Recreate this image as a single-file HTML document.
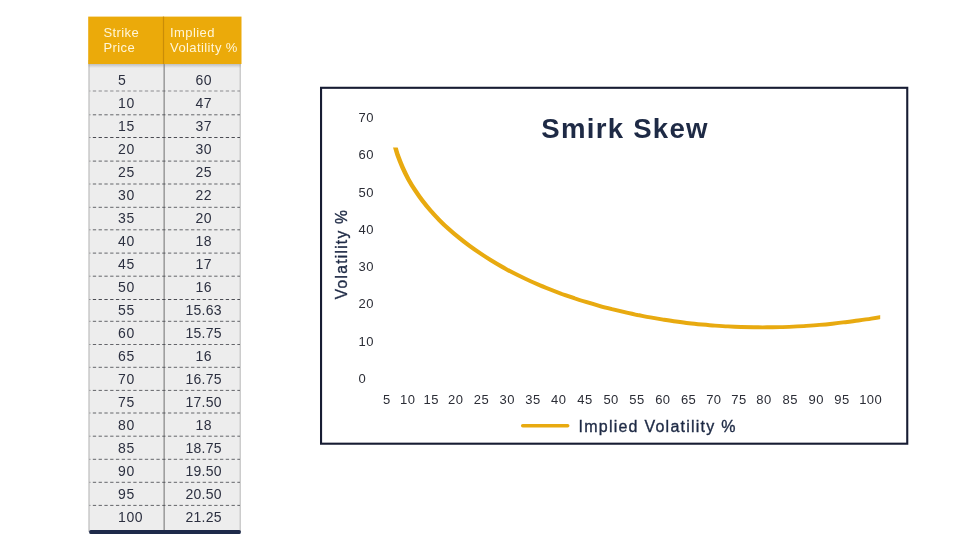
<!DOCTYPE html>
<html lang="en">
<head>
<meta charset="utf-8">
<title>Smirk Skew</title>
<style>
html,body{margin:0;padding:0;background:#fff;}
body{width:978px;height:547px;position:relative;overflow:hidden;font-family:"Liberation Sans",sans-serif;}
#shapes{position:absolute;left:0;top:0;}
.hd{position:absolute;color:#fff6d8;font-size:13px;line-height:16px;height:16px;letter-spacing:0.4px;white-space:nowrap;}
.r{position:absolute;left:0;width:978px;height:23px;line-height:23px;font-size:14px;color:#2c3040;}
.c1{position:absolute;left:118px;letter-spacing:0.6px;}
.c2{position:absolute;left:164px;width:79px;text-align:center;letter-spacing:0.3px;text-indent:0.3px;}
.yl{position:absolute;left:358.6px;width:40px;height:16px;line-height:16px;font-size:13px;color:#2b2d36;letter-spacing:0.4px;}
.xl{position:absolute;top:392.3px;width:40px;height:16px;line-height:16px;font-size:13px;color:#2b2d36;text-align:center;letter-spacing:0.4px;text-indent:0.4px;}
#title{position:absolute;left:541.3px;top:113px;font-size:27.6px;line-height:32px;font-weight:bold;color:#1e2a45;letter-spacing:1.25px;white-space:nowrap;}
#ytitle{position:absolute;left:342px;top:254px;width:0;height:0;}
#ytitle span{position:absolute;display:block;white-space:nowrap;font-size:15.6px;line-height:20px;color:#1e2a45;letter-spacing:1.25px;-webkit-text-stroke:0.35px #1e2a45;transform:translate(-50%,-50%) rotate(-90deg);}
#legend{position:absolute;left:578.5px;top:416.5px;font-size:16px;line-height:20px;color:#1e2a45;letter-spacing:1.24px;-webkit-text-stroke:0.35px #1e2a45;white-space:nowrap;}
</style>
</head>
<body>
<svg id="shapes" width="978" height="547" viewBox="0 0 978 547">
  <defs>
    <linearGradient id="sh" x1="0" y1="0" x2="0" y2="1">
      <stop offset="0" stop-color="#9a9a9a" stop-opacity="0.55"/>
      <stop offset="1" stop-color="#9a9a9a" stop-opacity="0"/>
    </linearGradient>
  </defs>
  <!-- table body -->
  <rect x="88.4" y="60" width="152.4" height="472" fill="#ededed"/>
  <rect x="88.4" y="60" width="1.3" height="472" fill="#c4c4c4"/>
  <rect x="239.6" y="60" width="1.2" height="472" fill="#c4c4c4"/>
  <rect x="88.4" y="64" width="152.4" height="4" fill="url(#sh)"/>
  <rect x="163.5" y="60" width="1.3" height="472" fill="#8c8c8c"/>
  <g stroke="#4a4b52" stroke-width="1" stroke-dasharray="3.3 2.48" stroke-dashoffset="2.55">
<line x1="89.6" y1="91.00" x2="240" y2="91.00" stroke-width="0.60"/>
<line x1="89.6" y1="114.80" x2="240" y2="114.80" stroke-width="0.85"/>
<line x1="89.6" y1="137.50" x2="240" y2="137.50" stroke-width="1.00"/>
<line x1="89.6" y1="161.10" x2="240" y2="161.10" stroke-width="0.85"/>
<line x1="89.6" y1="184.00" x2="240" y2="184.00" stroke-width="0.85"/>
<line x1="89.6" y1="207.30" x2="240" y2="207.30" stroke-width="0.85"/>
<line x1="89.6" y1="229.80" x2="240" y2="229.80" stroke-width="0.85"/>
<line x1="89.6" y1="253.10" x2="240" y2="253.10" stroke-width="0.85"/>
<line x1="89.6" y1="276.20" x2="240" y2="276.20" stroke-width="0.85"/>
<line x1="89.6" y1="299.50" x2="240" y2="299.50" stroke-width="1.00"/>
<line x1="89.6" y1="321.30" x2="240" y2="321.30" stroke-width="0.85"/>
<line x1="89.6" y1="344.50" x2="240" y2="344.50" stroke-width="0.85"/>
<line x1="89.6" y1="367.30" x2="240" y2="367.30" stroke-width="0.85"/>
<line x1="89.6" y1="390.40" x2="240" y2="390.40" stroke-width="0.85"/>
<line x1="89.6" y1="413.00" x2="240" y2="413.00" stroke-width="0.85"/>
<line x1="89.6" y1="436.20" x2="240" y2="436.20" stroke-width="0.85"/>
<line x1="89.6" y1="459.30" x2="240" y2="459.30" stroke-width="0.85"/>
<line x1="89.6" y1="482.30" x2="240" y2="482.30" stroke-width="0.85"/>
<line x1="89.6" y1="505.40" x2="240" y2="505.40" stroke-width="0.85"/>
  </g>
  <!-- header -->
  <rect x="88.2" y="16.6" width="153.3" height="47.4" fill="#ebaa0a"/>
  <rect x="162.9" y="16.6" width="1.2" height="47.4" fill="#c98d08"/>
  <!-- bottom bar -->
  <rect x="89.2" y="529.9" width="151.6" height="4" rx="1.5" fill="#1e2a4a"/>
  <!-- chart frame -->
  <rect x="321.05" y="87.8" width="586.2" height="355.9" fill="#fff" stroke="#171c33" stroke-width="2.1"/>
  <!-- curve -->
  <clipPath id="cc"><rect x="380" y="147.4" width="500.2" height="200"/></clipPath>
  <g clip-path="url(#cc)"><path transform="scale(1.17,1)" d="M336.7 142.2 C337.2 144.4 338.7 150.9 339.9 155.2 C341.2 159.4 342.6 163.5 344.1 167.5 C345.6 171.5 347.3 175.4 349.0 179.2 C350.8 183.0 352.7 186.7 354.8 190.3 C356.8 193.9 358.9 197.5 361.2 200.9 C363.4 204.3 365.8 207.7 368.2 210.9 C370.6 214.2 373.2 217.3 375.8 220.4 C378.4 223.5 381.1 226.5 383.9 229.4 C386.6 232.3 389.5 235.1 392.4 237.8 C395.3 240.6 398.2 243.2 401.2 245.8 C404.2 248.4 407.3 250.9 410.4 253.3 C413.5 255.8 416.6 258.1 419.8 260.4 C423.0 262.7 426.2 264.9 429.4 267.0 C432.7 269.1 435.9 271.2 439.2 273.2 C442.5 275.2 445.9 277.1 449.2 278.9 C452.6 280.8 456.0 282.6 459.4 284.3 C462.8 286.1 466.3 287.7 469.8 289.3 C473.2 290.9 476.7 292.5 480.2 294.0 C483.7 295.4 487.3 296.9 490.8 298.2 C494.3 299.6 497.9 300.9 501.5 302.2 C505.0 303.5 508.6 304.7 512.2 305.8 C515.8 307.0 519.4 308.1 523.0 309.2 C526.7 310.2 530.3 311.2 533.9 312.2 C537.5 313.2 541.2 314.1 544.8 315.0 C548.5 315.8 552.1 316.7 555.8 317.4 C559.5 318.2 563.1 318.9 566.8 319.6 C570.5 320.3 574.1 321.0 577.8 321.5 C581.5 322.1 585.2 322.7 588.9 323.2 C592.6 323.7 596.3 324.1 600.0 324.5 C603.7 324.9 607.4 325.3 611.1 325.6 C614.8 325.9 618.5 326.2 622.2 326.4 C625.9 326.7 629.6 326.9 633.4 327.0 C637.1 327.1 640.8 327.2 644.5 327.3 C648.2 327.3 652.0 327.4 655.7 327.3 C659.4 327.3 663.1 327.2 666.8 327.1 C670.6 327.0 674.3 326.8 678.0 326.6 C681.7 326.4 685.4 326.2 689.1 325.9 C692.9 325.6 696.6 325.3 700.3 324.9 C704.0 324.6 707.7 324.2 711.4 323.7 C715.1 323.3 718.8 322.8 722.5 322.2 C726.2 321.7 729.9 321.2 733.6 320.5 C737.3 319.9 741.0 319.3 744.7 318.6 C748.3 317.9 753.9 316.8 755.7 316.4" fill="none" stroke="#e8aa10" stroke-width="3.9" stroke-linecap="butt" stroke-linejoin="round"/></g>
  <!-- legend line -->
  <line x1="522.7" y1="425.7" x2="567.7" y2="425.7" stroke="#e8aa10" stroke-width="3.5" stroke-linecap="round"/>
</svg>

<div class="hd" style="left:103.4px;top:25px">Strike</div>
<div class="hd" style="left:103.4px;top:40px">Price</div>
<div class="hd" style="left:170.1px;top:25px">Implied</div>
<div class="hd" style="left:170.1px;top:40px">Volatility %</div>

<div class="r" style="top:68.90px"><span class="c1">5</span><span class="c2">60</span></div>
<div class="r" style="top:91.92px"><span class="c1">10</span><span class="c2">47</span></div>
<div class="r" style="top:114.94px"><span class="c1">15</span><span class="c2">37</span></div>
<div class="r" style="top:137.96px"><span class="c1">20</span><span class="c2">30</span></div>
<div class="r" style="top:160.98px"><span class="c1">25</span><span class="c2">25</span></div>
<div class="r" style="top:184.00px"><span class="c1">30</span><span class="c2">22</span></div>
<div class="r" style="top:207.02px"><span class="c1">35</span><span class="c2">20</span></div>
<div class="r" style="top:230.04px"><span class="c1">40</span><span class="c2">18</span></div>
<div class="r" style="top:253.06px"><span class="c1">45</span><span class="c2">17</span></div>
<div class="r" style="top:276.08px"><span class="c1">50</span><span class="c2">16</span></div>
<div class="r" style="top:299.10px"><span class="c1">55</span><span class="c2">15.63</span></div>
<div class="r" style="top:322.12px"><span class="c1">60</span><span class="c2">15.75</span></div>
<div class="r" style="top:345.14px"><span class="c1">65</span><span class="c2">16</span></div>
<div class="r" style="top:368.16px"><span class="c1">70</span><span class="c2">16.75</span></div>
<div class="r" style="top:391.18px"><span class="c1">75</span><span class="c2">17.50</span></div>
<div class="r" style="top:414.20px"><span class="c1">80</span><span class="c2">18</span></div>
<div class="r" style="top:437.22px"><span class="c1">85</span><span class="c2">18.75</span></div>
<div class="r" style="top:460.24px"><span class="c1">90</span><span class="c2">19.50</span></div>
<div class="r" style="top:483.26px"><span class="c1">95</span><span class="c2">20.50</span></div>
<div class="r" style="top:506.28px"><span class="c1">100</span><span class="c2">21.25</span></div>

<div class="yl" style="top:109.7px">70</div>
<div class="yl" style="top:147.2px">60</div>
<div class="yl" style="top:184.5px">50</div>
<div class="yl" style="top:221.8px">40</div>
<div class="yl" style="top:259.1px">30</div>
<div class="yl" style="top:296.4px">20</div>
<div class="yl" style="top:333.7px">10</div>
<div class="yl" style="top:371.0px">0</div>
<div class="xl" style="left:366.5px">5</div>
<div class="xl" style="left:387.5px">10</div>
<div class="xl" style="left:411.0px">15</div>
<div class="xl" style="left:435.5px">20</div>
<div class="xl" style="left:461.2px">25</div>
<div class="xl" style="left:487.0px">30</div>
<div class="xl" style="left:512.7px">35</div>
<div class="xl" style="left:538.5px">40</div>
<div class="xl" style="left:564.8px">45</div>
<div class="xl" style="left:590.9px">50</div>
<div class="xl" style="left:616.8px">55</div>
<div class="xl" style="left:642.6px">60</div>
<div class="xl" style="left:668.4px">65</div>
<div class="xl" style="left:693.6px">70</div>
<div class="xl" style="left:718.7px">75</div>
<div class="xl" style="left:743.8px">80</div>
<div class="xl" style="left:770.0px">85</div>
<div class="xl" style="left:796.0px">90</div>
<div class="xl" style="left:821.8px">95</div>
<div class="xl" style="left:850.4px">100</div>

<div id="title">Smirk Skew</div>
<div id="ytitle"><span>Volatility %</span></div>
<div id="legend">Implied Volatility %</div>
</body>
</html>
